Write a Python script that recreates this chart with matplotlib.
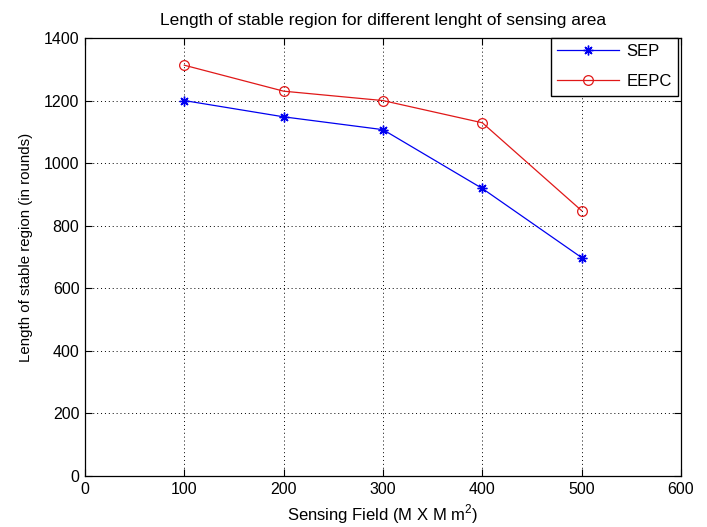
import matplotlib
matplotlib.use("Agg")
import matplotlib.pyplot as plt

sensing_field = [100, 200, 300, 400, 500]
sep_values = [1200, 1148, 1107, 919, 698]
eepc_values = [1313, 1230, 1200, 1129, 848]
x_ticks = [0, 100, 200, 300, 400, 500, 600]
y_ticks = [0, 200, 400, 600, 800, 1000, 1200, 1400]

plt.rcParams['font.family'] = ['Liberation Sans', 'DejaVu Sans']
plt.rcParams['mathtext.fontset'] = 'custom'
plt.rcParams['mathtext.rm'] = 'Liberation Sans'

fig = plt.figure(figsize=(7.07, 5.27), dpi=100)
# axes: left 85px, right 681px, top 38px, bottom 476px
ax = fig.add_axes([85 / 707, (527 - 476) / 527, (681 - 85) / 707, (476 - 38) / 527])

ax.plot(sensing_field, sep_values, color='#0000f0', marker=(8, 2, 0), markersize=7,
        markeredgewidth=1.0, linewidth=0.9, label='SEP')
ax.plot(sensing_field, eepc_values, color='#e01818', marker='o', markersize=7,
        markerfacecolor='none', markeredgewidth=0.9, linewidth=0.9, label='EEPC')

ax.set_xlim(0, 600)
ax.set_ylim(0, 1400)
ax.set_xticks(x_ticks)
ax.set_yticks(y_ticks)
ax.tick_params(direction='in', top=True, right=True, labelsize=11.5, length=5,
               width=0.8, pad=4)
ax.grid(True, linestyle=(0, (1, 3)), color='black', linewidth=0.7)
for s in ax.spines.values():
    s.set_linewidth(0.9)

ax.set_title('Length of stable region for different lenght of sensing area',
             fontsize=12.5, pad=9)
ax.set_xlabel('Sensing Field (M X M m$^2$)', fontsize=12, labelpad=4)
ax.set_ylabel('Length of stable region (in rounds)', fontsize=10.8)
ax.yaxis.set_label_coords(-0.087, 0.523)

leg = ax.legend(loc='upper right', fontsize=12, fancybox=False, framealpha=1,
                edgecolor='black', borderaxespad=0.0, handlelength=3.7,
                handletextpad=0.45, borderpad=0.38, labelspacing=0.9)
leg.get_frame().set_linewidth(1.0)
leg.set_bbox_to_anchor((0.995, 1.0), transform=ax.transAxes)

fig.savefig('out.png', dpi=100)
